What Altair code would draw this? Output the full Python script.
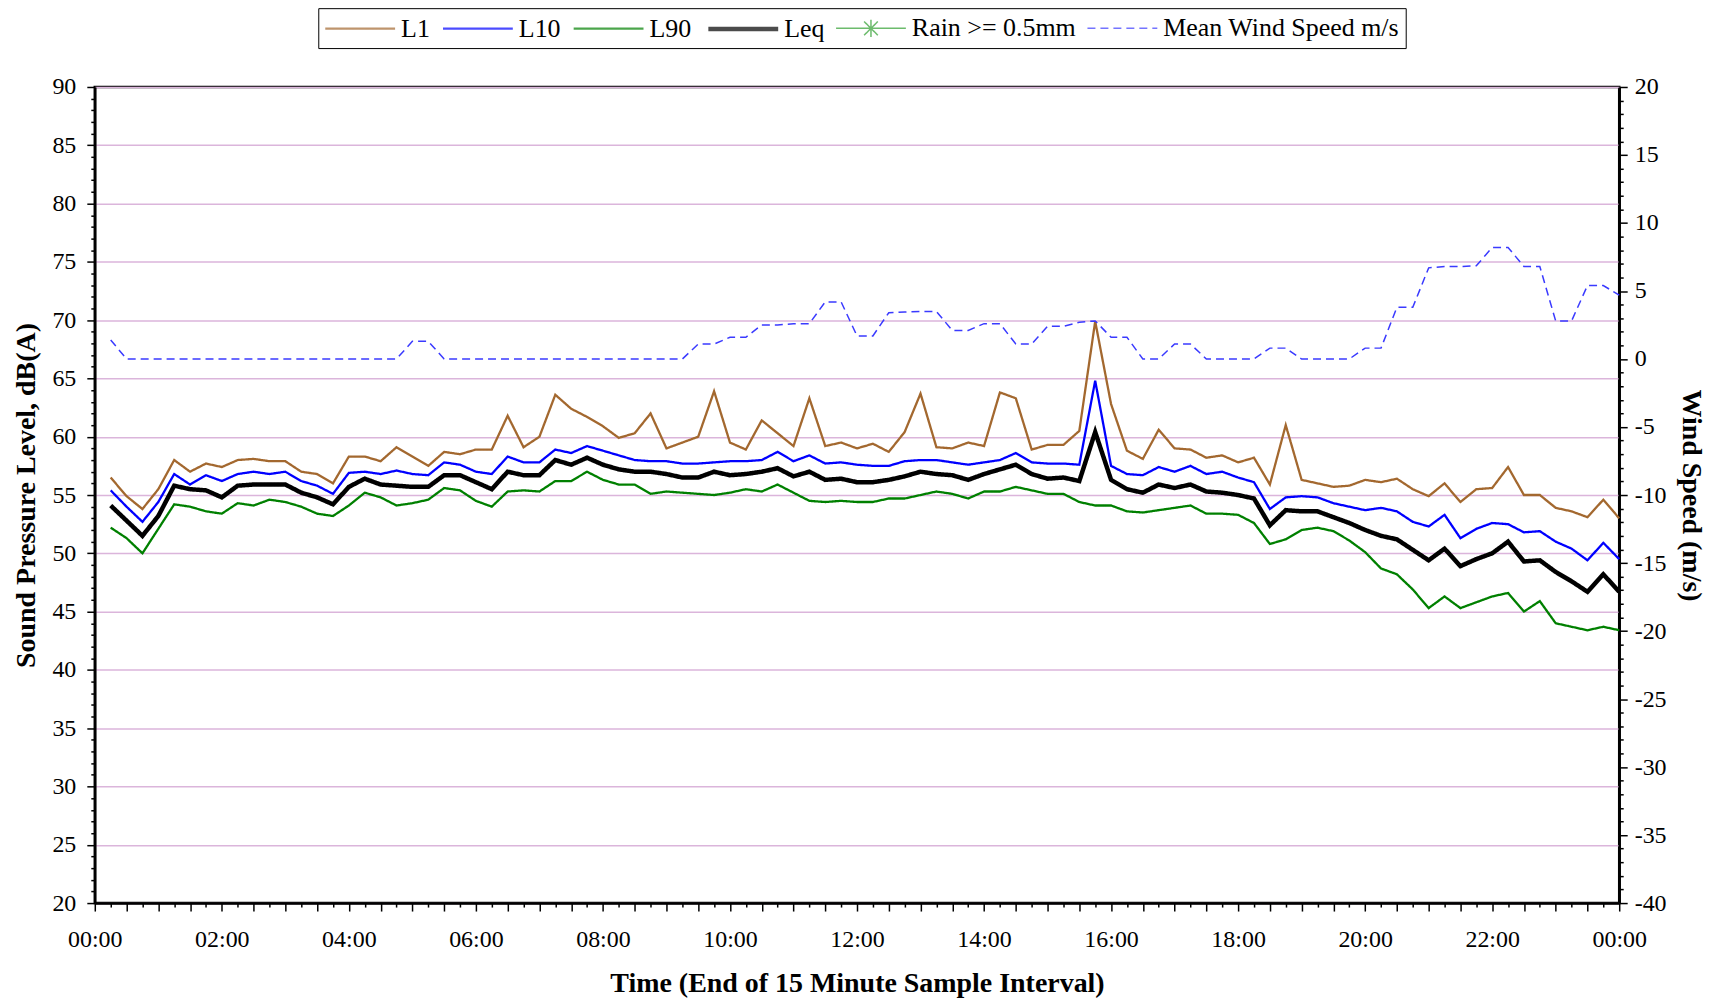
import altair as alt
import pandas as pd

# 15-minute sample intervals (end times, hours after midnight)
times = [i * 0.25 for i in range(1, 97)]

L1 = [56.5, 54.9, 53.8, 55.5, 58.0, 57.0, 57.7, 57.4, 58.0, 58.1, 57.9, 57.9, 57.0, 56.8, 56.0, 58.3,
      58.3, 57.9, 59.1, 58.3, 57.5, 58.7, 58.5, 58.9, 58.9, 61.8, 59.1, 60.0, 63.6, 62.4, 61.7, 60.9,
      59.9, 60.3, 62.0, 59.0, 59.5, 60.0, 63.9, 59.5, 58.9, 61.4, 60.3, 59.2, 63.3, 59.2, 59.5, 59.0,
      59.4, 58.7, 60.4, 63.7, 59.1, 59.0, 59.5, 59.2, 63.8, 63.3, 58.9, 59.3, 59.3, 60.5, 69.9, 62.8,
      58.8, 58.1, 60.6, 59.0, 58.9, 58.2, 58.4, 57.8, 58.2, 55.9, 61.0, 56.3, 56.0, 55.7, 55.8, 56.3,
      56.1, 56.4, 55.5, 54.9, 56.0, 54.4, 55.5, 55.6, 57.4, 55.0, 55.0, 53.9, 53.6, 53.1, 54.6, 53.0]

L10 = [55.4, 54.0, 52.7, 54.4, 56.8, 55.9, 56.7, 56.2, 56.8, 57.0, 56.8, 57.0, 56.2, 55.8, 55.1, 56.9,
       57.0, 56.8, 57.1, 56.8, 56.7, 57.8, 57.6, 57.0, 56.8, 58.3, 57.8, 57.8, 58.9, 58.6, 59.2, 58.8,
       58.4, 58.0, 57.9, 57.9, 57.7, 57.7, 57.8, 57.9, 57.9, 58.0, 58.7, 57.9, 58.4, 57.7, 57.8, 57.6,
       57.5, 57.5, 57.9, 58.0, 58.0, 57.8, 57.6, 57.8, 58.0, 58.6, 57.8, 57.7, 57.7, 57.6, 64.8, 57.5,
       56.8, 56.7, 57.4, 57.0, 57.5, 56.8, 57.0, 56.5, 56.1, 53.8, 54.8, 54.9, 54.8, 54.3, 54.0, 53.7,
       53.9, 53.6, 52.7, 52.3, 53.3, 51.3, 52.1, 52.6, 52.5, 51.8, 51.9, 51.0, 50.4, 49.4, 50.9, 49.5]

L90 = [52.2, 51.3, 50.0, 52.1, 54.2, 54.0, 53.6, 53.4, 54.3, 54.1, 54.6, 54.4, 54.0, 53.4, 53.2, 54.1,
       55.2, 54.8, 54.1, 54.3, 54.6, 55.6, 55.4, 54.5, 54.0, 55.3, 55.4, 55.3, 56.2, 56.2, 57.0, 56.3,
       55.9, 55.9, 55.1, 55.3, 55.2, 55.1, 55.0, 55.2, 55.5, 55.3, 55.9, 55.2, 54.5, 54.4, 54.5, 54.4,
       54.4, 54.7, 54.7, 55.0, 55.3, 55.1, 54.7, 55.3, 55.3, 55.7, 55.4, 55.1, 55.1, 54.4, 54.1, 54.1,
       53.6, 53.5, 53.7, 53.9, 54.1, 53.4, 53.4, 53.3, 52.6, 50.8, 51.2, 52.0, 52.2, 51.9, 51.1, 50.1,
       48.7, 48.2, 46.9, 45.3, 46.3, 45.3, 45.8, 46.3, 46.6, 45.0, 45.9, 44.0, 43.7, 43.4, 43.7, 43.4]

Leq = [54.1, 52.8, 51.5, 53.2, 55.8, 55.5, 55.4, 54.8, 55.8, 55.9, 55.9, 55.9, 55.2, 54.8, 54.2, 55.7,
       56.4, 55.9, 55.8, 55.7, 55.7, 56.7, 56.7, 56.1, 55.5, 57.0, 56.7, 56.7, 58.0, 57.6, 58.2, 57.6,
       57.2, 57.0, 57.0, 56.8, 56.5, 56.5, 57.0, 56.7, 56.8, 57.0, 57.3, 56.6, 57.0, 56.3, 56.4, 56.1,
       56.1, 56.3, 56.6, 57.0, 56.8, 56.7, 56.3, 56.8, 57.2, 57.6, 56.8, 56.4, 56.5, 56.2, 60.4, 56.3,
       55.5, 55.2, 55.9, 55.6, 55.9, 55.3, 55.2, 55.0, 54.7, 52.4, 53.7, 53.6, 53.6, 53.1, 52.6, 52.0,
       51.5, 51.2, 50.3, 49.4, 50.4, 48.9, 49.5, 50.0, 51.0, 49.3, 49.4, 48.4, 47.6, 46.7, 48.2, 46.7]

wind_speed = [1.4, 0, 0, 0, 0, 0, 0, 0, 0, 0, 0, 0, 0, 0, 0, 0,
              0, 0, 0, 1.3, 1.3, 0, 0, 0, 0, 0, 0, 0, 0, 0, 0, 0,
              0, 0, 0, 0, 0, 1.1, 1.1, 1.6, 1.6, 2.5, 2.5, 2.6, 2.6, 4.2, 4.2, 1.7,
              1.7, 3.4, 3.45, 3.5, 3.5, 2.1, 2.1, 2.6, 2.6, 1.1, 1.1, 2.4, 2.4, 2.7, 2.8, 1.6,
              1.6, 0, 0, 1.1, 1.1, 0, 0, 0, 0, 0.8, 0.8, 0, 0, 0, 0, 0.8,
              0.8, 3.8, 3.8, 6.7, 6.8, 6.8, 6.85, 8.2, 8.2, 6.8, 6.8, 2.8, 2.8, 5.4, 5.4, 4.7]

# no interval reached the rain threshold (no rain markers drawn)
rain_marker = [None] * 96

series_names = ["L1", "L10", "L90", "Leq", "Rain >= 0.5mm", "Mean Wind Speed m/s"]
series_colors = ["#a3682f", "#0000ff", "#008000", "#000000", "#2f9f2f", "#3a3aff"]
series_widths = [2.3, 2.3, 2.3, 4.5, 1.5, 1.5]
series_dash = [[1, 0], [1, 0], [1, 0], [1, 0], [1, 0], [8, 5]]
line_sym = "M-2.8,0H2.8"
star_sym = "M-2.8,0H2.8M-0.55,-0.55L0.55,0.55M-0.55,0.55L0.55,-0.55M0,-0.7V0.7"
series_shapes = [line_sym, line_sym, line_sym, line_sym, star_sym, line_sym]

rows = []
for name, vals in [("L1", L1), ("L10", L10), ("L90", L90), ("Leq", Leq)]:
    for t, v in zip(times, vals):
        rows.append({"t": t, "series": name, "value": v})
sound = pd.DataFrame(rows)
wind = pd.DataFrame({"t": times, "series": "Mean Wind Speed m/s", "value": wind_speed})
rain = pd.DataFrame({"t": times, "series": "Rain >= 0.5mm", "value": rain_marker})

FONT = "Liberation Serif"

legend = alt.Legend(
    title=None, orient="none", legendX=224, legendY=-79, direction="horizontal",
    columns=6, symbolType=line_sym, symbolSize=625, symbolOffset=21,
    labelFont=FONT, labelFontSize=26, labelColor="black",
    strokeColor="black", fillColor="white", padding=6,
    columnPadding=8, labelOffset=26, labelLimit=400,
)

color = alt.Color("series:N", scale=alt.Scale(domain=series_names, range=series_colors), legend=legend)
swidth = alt.StrokeWidth("series:N", scale=alt.Scale(type="ordinal", domain=series_names, range=series_widths), legend=legend)
sdash = alt.StrokeDash("series:N", scale=alt.Scale(domain=series_names, range=series_dash), legend=legend)
shape = alt.Shape("series:N", scale=alt.Scale(domain=series_names, range=series_shapes), legend=legend)

x_enc = alt.X(
    "t:Q",
    scale=alt.Scale(domain=[0, 24], nice=False, zero=False),
    axis=alt.Axis(
        values=[i * 0.25 for i in range(97)],
        labelExpr="datum.value % 2 === 0 ? (((datum.value % 24) < 10 ? '0' : '') + (datum.value % 24) + ':00') : ''",
        tickSize={"condition": {"test": "datum.value % 0.5 === 0", "value": 8}, "value": 4},
        labelFlush=False, labelOverlap=False, grid=False,
        labelPadding=17, titlePadding=18,
        title="Time (End of 15 Minute Sample Interval)",
    ),
)

cond5 = "datum.value % 5 === 0"

sound_layer = alt.Chart(sound).mark_line(strokeJoin="miter").encode(
    x=x_enc,
    y=alt.Y(
        "value:Q",
        scale=alt.Scale(domain=[20, 90], nice=False, zero=False),
        axis=alt.Axis(
            values=list(range(20, 91)),
            labelExpr=f"{cond5} ? ('' + datum.value) : ''",
            tickSize={"condition": {"test": cond5, "value": 8}, "value": 4},
            grid=True,
            gridColor="#dbb5db",
            gridWidth=1.5,
            gridOpacity={"condition": {"test": cond5, "value": 1}, "value": 0},
            labelOverlap=False, labelPadding=11, titlePadding=11,
            title="Sound Pressure Level, dB(A)",
        ),
    ),
    color=color, strokeWidth=swidth, strokeDash=sdash,
    detail="series:N",
)

wind_layer = alt.Chart(wind).mark_line().encode(
    x=x_enc,
    y=alt.Y(
        "value:Q",
        scale=alt.Scale(domain=[-40, 20], nice=False, zero=False),
        axis=alt.Axis(
            orient="right",
            values=list(range(-40, 21)),
            labelExpr=f"{cond5} ? ('' + datum.value) : ''",
            tickSize={"condition": {"test": cond5, "value": 8}, "value": 4},
            grid=False, labelOverlap=False, labelPadding=7, titlePadding=10,
            title="Wind Speed (m/s)",
        ),
    ),
    color=color, strokeWidth=swidth, strokeDash=sdash,
)

rain_layer = alt.Chart(rain).mark_point(filled=False, size=120).encode(
    x=x_enc,
    y=alt.Y("value:Q", scale=alt.Scale(domain=[20, 90], nice=False, zero=False), axis=None),
    color=color, shape=shape,
)

chart = alt.layer(sound_layer, wind_layer, rain_layer).resolve_scale(y="independent").properties(
    width=1528, height=818,
    padding={"left": 87, "top": 78, "right": 90, "bottom": 95},
    autosize=alt.AutoSizeParams(type="none"),
).configure_axis(
    labelFont=FONT, titleFont=FONT, labelFontSize=24, titleFontSize=28,
    titleFontWeight="bold", labelColor="black", titleColor="black",
    domainColor="black", domainWidth=2.5, tickColor="black", tickWidth=1.5,
).configure_view(stroke="black", strokeWidth=2.5)

chart.save("out.html", embed_options={"renderer": "svg", "actions": False})
